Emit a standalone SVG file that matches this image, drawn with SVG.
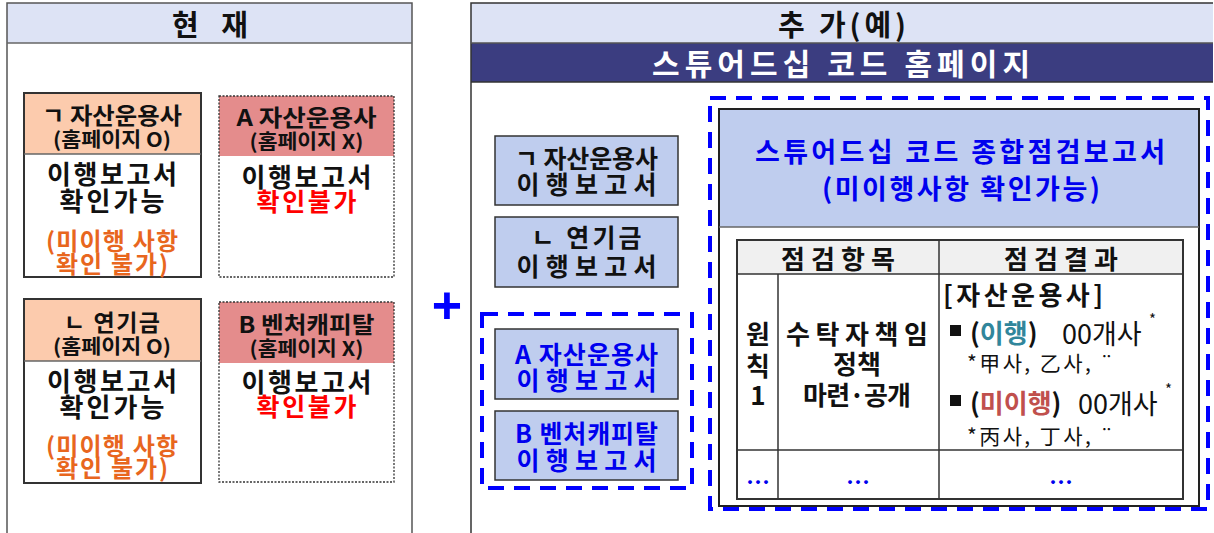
<svg xmlns="http://www.w3.org/2000/svg" width="1214" height="533" viewBox="0 0 1214 533">
<style>
text{font-family:"Noto Sans CJK KR","Noto Sans",sans-serif;dominant-baseline:central;text-anchor:middle}
.h{font-size:23px;font-weight:700;fill:#111}
.hs{font-size:20px;font-weight:700;fill:#111}
.m{font-size:26px;font-weight:700;fill:#111}
.o{font-size:24px;font-weight:700;fill:#e8661e}
.r{font-size:25px;font-weight:700;fill:#ff0000}
.bx{font-size:25px;font-weight:700;fill:#111}
.bb{font-size:25px;font-weight:700;fill:#0000ee}
.tt{font-size:26px;font-weight:700;fill:#111}
.dash{fill:none;stroke:#0000ff;stroke-width:4;stroke-dasharray:16 10}
.t{stroke:#333;stroke-width:1.5;fill:none}
.dot{font-size:24px;font-weight:700;fill:#0000ee}
</style>
<rect width="1214" height="533" fill="#fff"/>
<g id="panel-current">
<rect x="7" y="3" width="405" height="40" fill="#dde3f5"/>
<path d="M7 533V3H412V533" fill="none" stroke="#555" stroke-width="1.5"/>
<line x1="7" y1="43" x2="412" y2="43" stroke="#666" stroke-width="1.5"/>
<text x="210" y="23" style="font-size:29px;font-weight:700" fill="#111" textLength="76" lengthAdjust="spacing">현 재</text>
</g>
<g id="box-g-asset">
<rect x="24" y="93" width="177" height="61" fill="#fccbad"/>
<rect x="24" y="93" width="177" height="184" fill="none" stroke="#333" stroke-width="2"/>
<line x1="24" y1="154" x2="201" y2="154" stroke="#666" stroke-width="1.5"/>
<text class="h" x="112" y="114" textLength="140" lengthAdjust="spacingAndGlyphs">ㄱ 자산운용사</text>
<text class="hs" x="112" y="138" textLength="118" lengthAdjust="spacingAndGlyphs">(홈페이지 O)</text>
<text class="m" x="112" y="172" textLength="130" lengthAdjust="spacing">이행보고서</text>
<text class="m" x="112" y="199" textLength="105" lengthAdjust="spacing">확인가능</text>
<text class="o" x="112" y="239" textLength="132" lengthAdjust="spacing">(미이행 사항</text>
<text class="o" x="112" y="262" textLength="112" lengthAdjust="spacing">확인 불가)</text>
</g>
<g id="box-a-asset">
<rect x="219" y="96" width="175" height="60" fill="#e48c8c"/>
<rect x="219" y="96" width="175" height="181" fill="none" stroke="#333" stroke-width="1.3" stroke-dasharray="2 1.5"/>
<text class="h" x="306.5" y="116" textLength="140" lengthAdjust="spacingAndGlyphs">A 자산운용사</text>
<text class="hs" x="306.5" y="140" textLength="114" lengthAdjust="spacingAndGlyphs">(홈페이지 X)</text>
<text class="m" x="306.5" y="175" textLength="130" lengthAdjust="spacing">이행보고서</text>
<text class="r" x="306.5" y="200" textLength="100" lengthAdjust="spacing">확인불가</text>
</g>
<g id="box-n-pension">
<rect x="24" y="299" width="177" height="62" fill="#fccbad"/>
<rect x="24" y="299" width="177" height="184" fill="none" stroke="#333" stroke-width="2"/>
<line x1="24" y1="361" x2="201" y2="361" stroke="#666" stroke-width="1.5"/>
<text class="h" x="112" y="321" textLength="96" lengthAdjust="spacing">ㄴ 연기금</text>
<text class="hs" x="112" y="345" textLength="118" lengthAdjust="spacingAndGlyphs">(홈페이지 O)</text>
<text class="m" x="112" y="379" textLength="130" lengthAdjust="spacing">이행보고서</text>
<text class="m" x="112" y="405" textLength="105" lengthAdjust="spacing">확인가능</text>
<text class="o" x="112" y="444" textLength="132" lengthAdjust="spacing">(미이행 사항</text>
<text class="o" x="112" y="466" textLength="112" lengthAdjust="spacing">확인 불가)</text>
</g>
<g id="box-b-vc">
<rect x="219" y="302" width="175" height="61" fill="#e48c8c"/>
<rect x="219" y="302" width="175" height="180" fill="none" stroke="#333" stroke-width="1.3" stroke-dasharray="2 1.5"/>
<text class="h" x="306.5" y="323" textLength="136" lengthAdjust="spacingAndGlyphs">B 벤처캐피탈</text>
<text class="hs" x="306.5" y="347" textLength="114" lengthAdjust="spacingAndGlyphs">(홈페이지 X)</text>
<text class="m" x="306.5" y="380" textLength="130" lengthAdjust="spacing">이행보고서</text>
<text class="r" x="306.5" y="405" textLength="100" lengthAdjust="spacing">확인불가</text>
</g>
<g id="plus">
<text x="447" y="305" style="font-family:'Liberation Sans',sans-serif;font-size:52px;font-weight:700" fill="#0000ff">+</text>
</g>
<g id="panel-add">
<rect x="471" y="3" width="742" height="40" fill="#dde3f5"/>
<rect x="471" y="43" width="742" height="39" fill="#3b3d80"/>
<path d="M471 533V3H1213" fill="none" stroke="#333" stroke-width="1.5"/>
<line x1="471" y1="43" x2="1213" y2="43" stroke="#555" stroke-width="1.5"/>
<line x1="471" y1="82" x2="1213" y2="82" stroke="#333" stroke-width="1.5"/>
<text x="842" y="23" style="font-size:29px;font-weight:700" fill="#111" textLength="128" lengthAdjust="spacing">추 가(예)</text>
<text x="841" y="62" style="font-size:30px;font-weight:700" fill="#fff" textLength="378" lengthAdjust="spacing">스튜어드십 코드 홈페이지</text>
</g>
<g id="report-g">
<rect x="495" y="136" width="183" height="69" fill="#bfcdee" stroke="#333" stroke-width="1.5"/>
<text class="bx" x="586.5" y="157" textLength="143" lengthAdjust="spacing">ㄱ 자산운용사</text>
<text class="bx" x="586.5" y="183" textLength="140" lengthAdjust="spacing">이행보고서</text>
</g>
<g id="report-n">
<rect x="495" y="217" width="183" height="70" fill="#bfcdee" stroke="#333" stroke-width="1.5"/>
<text class="bx" x="586.5" y="236" textLength="110" lengthAdjust="spacing">ㄴ 연기금</text>
<text class="bx" x="586.5" y="265" textLength="140" lengthAdjust="spacing">이행보고서</text>
</g>
<g id="group-ab">
<rect class="dash" x="482" y="314" width="210" height="174"/>
</g>
<g id="report-a">
<rect x="495" y="329" width="183" height="70" fill="#bfcdee" stroke="#333" stroke-width="1.5"/>
<text class="bb" x="586.5" y="353" textLength="143" lengthAdjust="spacing">A 자산운용사</text>
<text class="bb" x="586.5" y="379" textLength="140" lengthAdjust="spacing">이행보고서</text>
</g>
<g id="report-b">
<rect x="495" y="411" width="183" height="69" fill="#bfcdee" stroke="#333" stroke-width="1.5"/>
<text class="bb" x="586.5" y="432" textLength="143" lengthAdjust="spacing">B 벤처캐피탈</text>
<text class="bb" x="586.5" y="459" textLength="140" lengthAdjust="spacing">이행보고서</text>
</g>
<g id="summary-report">
<rect class="dash" x="710" y="98" width="498" height="411"/>
<rect x="719" y="109" width="480" height="118" fill="#bfcdee"/>
<rect x="719" y="109" width="480" height="397" fill="none" stroke="#222" stroke-width="2"/>
<line x1="719" y1="227" x2="1199" y2="227" stroke="#666" stroke-width="1.5"/>
<text x="960" y="150" style="font-size:27px;font-weight:700" fill="#0000ee" textLength="410" lengthAdjust="spacing">스튜어드십 코드 종합점검보고서</text>
<text x="961" y="187" style="font-size:27px;font-weight:700" fill="#0000ee" textLength="278" lengthAdjust="spacing">(미이행사항 확인가능)</text>
</g>
<g id="table">
<rect x="737" y="240" width="446" height="34" fill="#f0f0f0"/>
<rect class="t" x="737" y="240" width="446" height="259" style="stroke-width:2"/>
<line class="t" x1="737" y1="274" x2="1183" y2="274"/>
<line class="t" x1="737" y1="450" x2="1183" y2="450"/>
<line class="t" x1="939" y1="240" x2="939" y2="499"/>
<line class="t" x1="778" y1="274" x2="778" y2="499"/>
<text class="tt" x="838" y="257" textLength="114" lengthAdjust="spacing">점검항목</text>
<text class="tt" x="1061" y="257" textLength="114" lengthAdjust="spacing">점검결과</text>
<text class="tt" x="758" y="332">원</text>
<text class="tt" x="758" y="364">칙</text>
<text class="tt" x="758" y="393">1</text>
<text class="tt" x="857" y="332" textLength="142" lengthAdjust="spacing">수탁자책임</text>
<text class="tt" x="857" y="362">정책</text>
<text class="tt" x="857" y="393" textLength="108" lengthAdjust="spacing">마련·공개</text>
<text class="tt" x="943" y="293" style="text-anchor:start" textLength="160" lengthAdjust="spacing">[자산운용사]</text>
<rect x="950" y="325" width="11" height="11" fill="#111"/>
<text class="tt" x="970" y="331" style="text-anchor:start">(<tspan fill="#31869b">이행</tspan>)</text>
<text x="1062" y="332" style="text-anchor:start;font-size:27px" fill="#111">00개사</text>
<text x="1149" y="318" style="text-anchor:start;font-size:15px" fill="#111">*</text>
<text x="967" y="362" style="text-anchor:start;font-size:21px" fill="#111" textLength="146" lengthAdjust="spacing">*甲사, 乙사, ¨</text>
<rect x="950" y="395" width="11" height="11" fill="#111"/>
<text class="tt" x="970" y="401" style="text-anchor:start">(<tspan fill="#c0504d">미이행</tspan>)</text>
<text x="1078" y="402" style="text-anchor:start;font-size:27px" fill="#111">00개사</text>
<text x="1165" y="388" style="text-anchor:start;font-size:15px" fill="#111">*</text>
<text x="967" y="435" style="text-anchor:start;font-size:21px" fill="#111" textLength="146" lengthAdjust="spacing">*丙사, 丁사, ¨</text>
<text class="dot" x="758" y="480">…</text>
<text class="dot" x="858" y="480">…</text>
<text class="dot" x="1061" y="480">…</text>
</g>
</svg>
